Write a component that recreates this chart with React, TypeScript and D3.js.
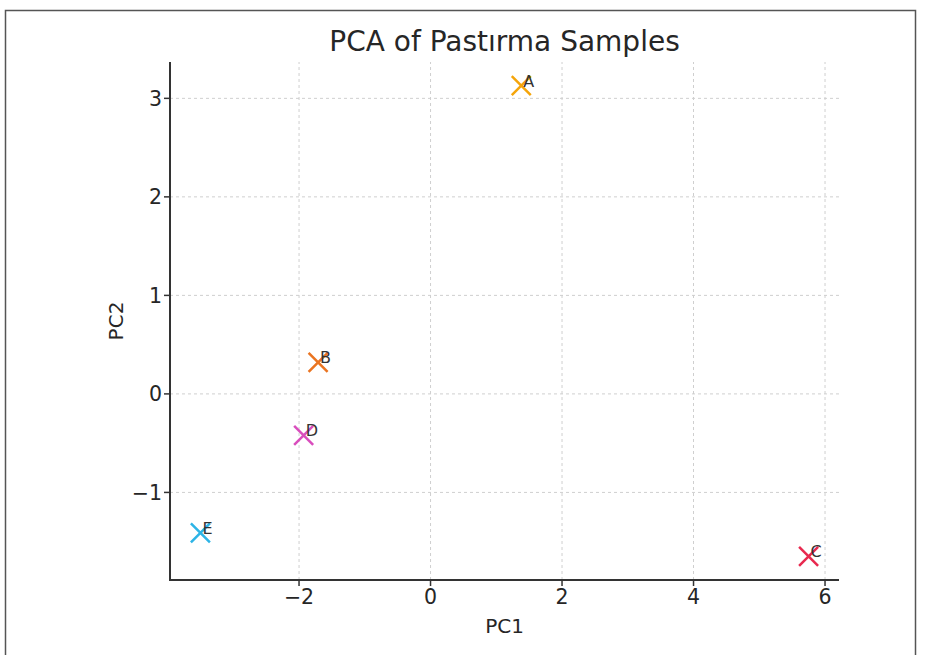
import React from 'react';
import * as d3 from 'd3';

// sample labels and PCA scores
const samples = ['A', 'B', 'C', 'D', 'E'];
const pc1 = [1.38, -1.71, 5.75, -1.93, -3.5];
const pc2 = [3.13, 0.32, -1.65, -0.42, -1.41];
const colors = ['#f5a50a', '#ea7421', '#e8294f', '#d94dbd', '#2db4e6'];
const xTicks = [-2, 0, 2, 4, 6];
const yTicks = [-1, 0, 1, 2, 3];

const W = 926;
const H = 655;
const margin = { top: 62, right: 87, bottom: 75, left: 170 };
const FONT = '"DejaVu Sans", Verdana, sans-serif';

// matplotlib style 5% padding around the data
const padded = (vals: number[]) => {
  const [lo, hi] = d3.extent(vals) as [number, number];
  const p = (hi - lo) * 0.05;
  return [lo - p, hi + p];
};

const App = () => {
  const x = d3.scaleLinear().domain(padded(pc1)).range([margin.left, W - margin.right]);
  const y = d3.scaleLinear().domain(padded(pc2)).range([H - margin.bottom, margin.top]);
  const fmt = d3.format('d');
  const x0 = margin.left, x1 = W - margin.right;
  const y0 = H - margin.bottom, y1 = margin.top;
  const s = 9.5; // half size of the x marker

  return (
    <svg width={W} height={H} style={{ position: 'absolute', left: 0, top: 0, background: '#fff' }} fontFamily={FONT}>
      <rect x={5.5} y={10.5} width={910} height={700} fill="none" stroke="#555" strokeWidth={1.5} />

      {/* grid */}
      <g stroke="#cfcfcf" strokeWidth={1} strokeDasharray="3,3">
        {xTicks.map(t => <line key={'gx' + t} x1={x(t)} x2={x(t)} y1={y0} y2={y1} />)}
        {yTicks.map(t => <line key={'gy' + t} x1={x0} x2={x1} y1={y(t)} y2={y(t)} />)}
      </g>

      {/* spines */}
      <g stroke="#333" strokeWidth={2}>
        <line x1={x0} x2={x0} y1={y1} y2={y0 + 1} />
        <line x1={x0 - 1} x2={x1} y1={y0} y2={y0} />
      </g>

      {/* ticks */}
      <g fill="#262626" fontSize={20.5}>
        {xTicks.map(t => (
          <g key={'tx' + t}>
            <line x1={x(t)} x2={x(t)} y1={y0} y2={y0 + 6} stroke="#333" strokeWidth={1.5} />
            <text x={x(t)} y={604} textAnchor="middle">{fmt(t)}</text>
          </g>
        ))}
        {yTicks.map(t => (
          <g key={'ty' + t}>
            <line x1={x0 - 6} x2={x0} y1={y(t)} y2={y(t)} stroke="#333" strokeWidth={1.5} />
            <text x={162} y={y(t)} dy="0.36em" textAnchor="end">{fmt(t)}</text>
          </g>
        ))}
      </g>

      {/* points */}
      {samples.map((name, i) => {
        const cx = x(pc1[i]);
        const cy = y(pc2[i]);
        return (
          <g key={name}>
            <path
              d={`M${cx - s},${cy - s}L${cx + s},${cy + s}M${cx - s},${cy + s}L${cx + s},${cy - s}`}
              stroke={colors[i]}
              strokeWidth={2.5}
              fill="none"
            />
            <text x={cx + 2} y={cy + 1} fontSize={16} fill="#333">{name}</text>
          </g>
        );
      })}

      {/* labels */}
      <text x={(x0 + x1) / 2} y={51} textAnchor="middle" fontSize={28} fill="#262626">PCA of Pastırma Samples</text>
      <text x={(x0 + x1) / 2} y={633} textAnchor="middle" fontSize={20} fill="#262626">PC1</text>
      <text transform={`translate(123,${(y0 + y1) / 2}) rotate(-90)`} textAnchor="middle" fontSize={20} fill="#262626">PC2</text>
    </svg>
  );
};

export default App;
